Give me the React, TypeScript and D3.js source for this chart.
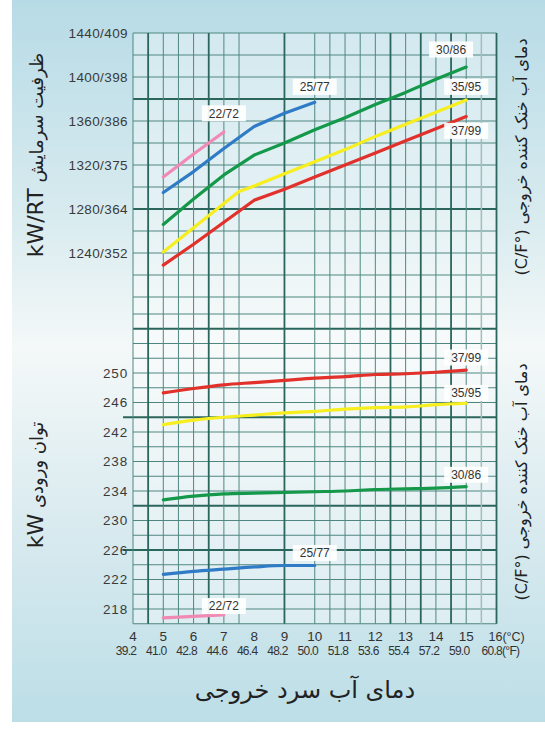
import React from 'react';
import * as d3 from 'd3';

// ---------- data ----------
const celsiusTicks = [4, 5, 6, 7, 8, 9, 10, 11, 12, 13, 14, 15, 16];
const fahrenheitTicks = ['39.2', '41.0', '42.8', '44.6', '46.4', '48.2', '50.0', '51.8', '53.6', '55.4', '57.2', '59.0', '60.8'];

const capacityTicks = [1440, 1400, 1360, 1320, 1280, 1240];
const capacityRtTicks = [409, 398, 386, 375, 364, 352];
const powerTicks = [250, 246, 242, 238, 234, 230, 226, 222, 218];

const seriesNames = ['22/72', '25/77', '30/86', '35/95', '37/99'];
const seriesColors = ['#f08ab4', '#2f7bc6', '#14994a', '#f6ee1e', '#e2302b'];

// capacity (kW) vs leaving chilled water temp (°C)
const capT_22 = [5, 6, 7];
const capV_22 = [1309, 1330, 1350];
const capT_25 = [5, 6, 7, 8, 9, 10];
const capV_25 = [1295, 1314, 1335, 1355, 1367, 1377];
const capT_30 = [5, 6, 7, 8, 9, 10, 11, 12, 13, 14, 15];
const capV_30 = [1266, 1289, 1311, 1329, 1340, 1352, 1363, 1375, 1386, 1398, 1409];
const capT_35 = [5, 6, 7, 7.5, 8, 9, 10, 11, 12, 13, 14, 15];
const capV_35 = [1241, 1263, 1285, 1296, 1301, 1312, 1323, 1334, 1346, 1357, 1368, 1379];
const capT_37 = [5, 6, 7, 8, 9, 10, 11, 12, 13, 14, 15];
const capV_37 = [1229, 1248, 1268, 1288, 1298, 1309, 1320, 1331, 1342, 1353, 1364];

// power input (kW)
const powT_22 = [5, 6, 7];
const powV_22 = [216.8, 217.0, 217.2];
const powT_25 = [5, 6, 7, 8, 9, 10];
const powV_25 = [222.7, 223.1, 223.4, 223.7, 223.9, 223.9];
const powT_30 = [5, 6, 7, 8, 9, 10, 11, 12, 13, 14, 15];
const powV_30 = [232.8, 233.3, 233.6, 233.7, 233.8, 233.9, 234.0, 234.2, 234.3, 234.4, 234.6];
const powT_35 = [5, 6, 7, 8, 9, 10, 11, 12, 13, 14, 15];
const powV_35 = [243.0, 243.6, 244.0, 244.3, 244.6, 244.8, 245.1, 245.3, 245.4, 245.7, 245.9];
const powT_37 = [5, 6, 7, 8, 9, 10, 11, 12, 13, 14, 15];
const powV_37 = [247.3, 247.9, 248.4, 248.7, 249.0, 249.3, 249.5, 249.8, 249.9, 250.1, 250.4];

// grid values
const gridX = [4, 4.5, 5, 5.5, 6, 6.5, 7, 7.5, 9, 10, 10.5, 11, 11.5, 12, 12.5, 13, 13.5, 14, 14.5, 15, 15.5, 16];
const gridXThick = [4.5, 6.5, 9, 12.5, 13.5, 14.5, 16];
const gridXLight = [15.5];
const gridCapY = [1440, 1420, 1400, 1380, 1360, 1340, 1320, 1300, 1280, 1260, 1240, 1220, 1200];
const gridCapThick = [1380, 1280];
const gridPowY = [258, 256, 254, 252, 250, 248, 246, 244, 242, 240, 238, 236, 234, 232, 230, 228, 226, 224, 222, 220, 218, 216];
const gridPowThick = [256, 244, 232, 226];
const gridPowExtended = [244, 226];

// ---------- scales ----------
const x = d3.scaleLinear().domain([4, 16]).range([133, 496.5]);
const yCap = d3.scaleLinear().domain([1440, 1240]).range([33, 253]);
const yPow = d3.scaleLinear().domain([250, 218]).range([373, 609]);

const capSeries = [
  { t: capT_22, v: capV_22 },
  { t: capT_25, v: capV_25 },
  { t: capT_30, v: capV_30 },
  { t: capT_35, v: capV_35 },
  { t: capT_37, v: capV_37 },
];
const powSeries = [
  { t: powT_22, v: powV_22 },
  { t: powT_25, v: powV_25 },
  { t: powT_30, v: powV_30 },
  { t: powT_35, v: powV_35 },
  { t: powT_37, v: powV_37 },
];

// label anchor positions in data units [temp, value]
const capLabelAt = [[7, 1367], [10, 1391], [14.5, 1425], [15, 1391], [15, 1351]];
const powLabelAt = [[7, 218.4], [10, 225.6], [15, 236.2], [15, 247.3], [15, 252.1]];

const SANS = "'Liberation Sans', Arial, sans-serif";

export default function App() {
  const capLine = (s: { t: number[]; v: number[] }) =>
    d3.line<number>().x((_, i) => x(s.t[i])).y((d) => yCap(d))(s.v) || '';
  const powLine = (s: { t: number[]; v: number[] }) =>
    d3.line<number>().x((_, i) => x(s.t[i])).y((d) => yPow(d)).curve(d3.curveMonotoneX)(s.v) || '';

  const top = yCap(1440);
  const bottom = yPow(216);
  const left = x(4);
  const right = x(16);

  const lineColor = (thick: boolean, light = false) => (thick ? '#2a665b' : light ? '#a3bdbb' : '#4f8780');

  const label = (txt: string, cx: number, cy: number, key: string) => (
    <g key={key}>
      <rect x={cx - 22} y={cy - 8} width={44} height={16} fill="#ffffff" opacity={0.92} />
      <text x={cx} y={cy} dy="0.36em" textAnchor="middle" fontFamily={SANS} fontSize={12} fill="#333">
        {txt}
      </text>
    </g>
  );

  return (
    <svg width={545} height={734} style={{ position: 'absolute', left: 0, top: 0 }} xmlns="http://www.w3.org/2000/svg">
      <defs>
        <linearGradient id="bg" x1="0" y1="0" x2="0" y2="1">
          <stop offset="0" stopColor="#b7dbe6" />
          <stop offset="0.3" stopColor="#d8ebef" />
          <stop offset="0.48" stopColor="#f4f8f8" />
          <stop offset="0.7" stopColor="#dcecf0" />
          <stop offset="1" stopColor="#bcdee7" />
        </linearGradient>
      </defs>
      <rect x={0} y={0} width={545} height={734} fill="#ffffff" />
      <rect x={12} y={0} width={533} height={722} fill="url(#bg)" />
      <rect x={left} y={top} width={right - left} height={bottom - top} fill="#ffffff" opacity={0.35} />

      {/* horizontal grid - capacity */}
      {gridCapY.map((v) => {
        const thick = gridCapThick.includes(v);
        return (
          <line key={'hc' + v} x1={left} x2={right} y1={yCap(v)} y2={yCap(v)}
            stroke={lineColor(thick)} strokeWidth={thick ? 1.8 : 1} />
        );
      })}
      {/* horizontal grid - power */}
      {gridPowY.map((v) => {
        const thick = gridPowThick.includes(v);
        const ext = gridPowExtended.includes(v);
        return (
          <line key={'hp' + v} x1={ext ? left - 10 : left} x2={right} y1={yPow(v)} y2={yPow(v)}
            stroke={lineColor(thick)} strokeWidth={thick ? 1.8 : 1} />
        );
      })}
      {/* vertical grid */}
      {gridX.map((t) => {
        const thick = gridXThick.includes(t);
        const light = gridXLight.includes(t);
        return (
          <line key={'v' + t} x1={x(t)} x2={x(t)} y1={top} y2={bottom}
            stroke={lineColor(thick, light)} strokeWidth={thick ? 1.8 : light ? 1.5 : 1} />
        );
      })}

      {/* curves */}
      {capSeries.map((s, i) => (
        <path key={'c' + i} d={capLine(s)} fill="none" stroke={seriesColors[i]} strokeWidth={3.2}
          strokeLinecap="round" strokeLinejoin="round" />
      ))}
      {powSeries.map((s, i) => (
        <path key={'p' + i} d={powLine(s)} fill="none" stroke={seriesColors[i]} strokeWidth={3.2} strokeLinecap="round" />
      ))}

      {/* series labels */}
      {capLabelAt.map((p, i) => label(seriesNames[i], x(p[0]), yCap(p[1]), 'lc' + i))}
      {powLabelAt.map((p, i) => label(seriesNames[i], x(p[0]), yPow(p[1]), 'lp' + i))}

      {/* left tick labels */}
      {capacityTicks.map((v, i) => (
        <text key={'tc' + v} x={128} y={yCap(v)} dy="0.36em" textAnchor="end" fontFamily={SANS} fontSize={13.5}
          letterSpacing={0.4} fill="#3a3a3a">
          {v + '/' + capacityRtTicks[i]}
        </text>
      ))}
      {powerTicks.map((v) => (
        <text key={'tp' + v} x={128} y={yPow(v)} dy="0.36em" textAnchor="end" fontFamily={SANS} fontSize={13.5}
          letterSpacing={0.8} fill="#3a3a3a">
          {v}
        </text>
      ))}

      {/* bottom tick labels */}
      {celsiusTicks.map((c, i) =>
        i < celsiusTicks.length - 1 ? (
          <text key={'cx' + c} x={x(c)} y={641} textAnchor="middle" fontFamily={SANS} fontSize={13.5} fill="#333">
            {c}
          </text>
        ) : (
          <text key={'cx' + c} x={x(c) - 8} y={641} textAnchor="start" fontFamily={SANS} fontSize={12.5} fill="#333">
            {c + '(°C)'}
          </text>
        )
      )}
      {fahrenheitTicks.map((f, i) =>
        i < fahrenheitTicks.length - 1 ? (
          <text key={'fx' + f} x={x(celsiusTicks[i]) - 7} y={655} textAnchor="middle" fontFamily={SANS} fontSize={12}
            letterSpacing={-0.7} fill="#333">
            {f}
          </text>
        ) : (
          <text key={'fx' + f} x={x(celsiusTicks[i]) - 15} y={655} textAnchor="start" fontFamily={SANS} fontSize={12}
            letterSpacing={-0.7} fill="#333">
            {f + '(°F)'}
          </text>
        )
      )}

      {/* axis titles */}
      <text x={305} y={698} textAnchor="middle" fontFamily="'DejaVu Sans', sans-serif" fontSize={24} fill="#222">
        دمای آب سرد خروجی
      </text>
      <text transform={`translate(43, 155) rotate(-90)`} textAnchor="middle" fontFamily="'DejaVu Sans', sans-serif" fill="#222">
        <tspan fontSize={22}>kW/RT</tspan>
        <tspan fontSize={18}> ظرفیت سرمایش</tspan>
      </text>
      <text transform={`translate(43, 485) rotate(-90)`} textAnchor="middle" fontFamily="'DejaVu Sans', sans-serif" fill="#222">
        <tspan fontSize={22}>kW</tspan>
        <tspan fontSize={18}> توان ورودی</tspan>
      </text>
      <text transform={`translate(527, 157) rotate(-90)`} textAnchor="middle" fontFamily="'DejaVu Sans', sans-serif" fontSize={16} fill="#222">
        (C/F°) دمای آب خنک کننده خروجی
      </text>
      <text transform={`translate(527, 482) rotate(-90)`} textAnchor="middle" fontFamily="'DejaVu Sans', sans-serif" fontSize={16} fill="#222">
        (C/F°) دمای آب خنک کننده خروجی
      </text>
    </svg>
  );
}
